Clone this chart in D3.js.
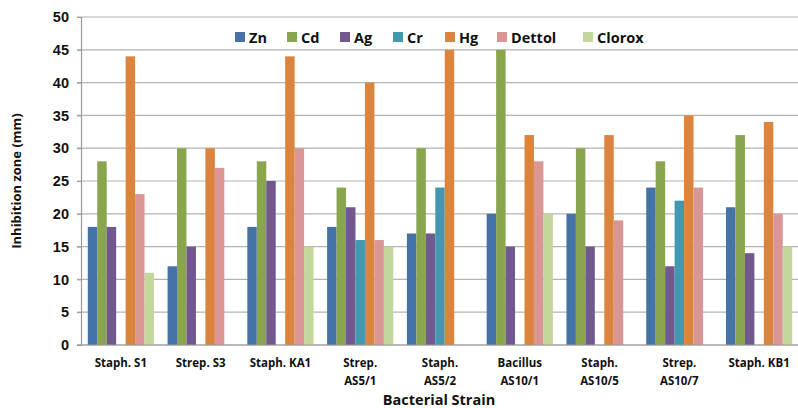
<!DOCTYPE html>
<html>
<head>
<meta charset="utf-8">
<script src="https://cdn.jsdelivr.net/npm/d3@7"></script>
<style>
  html, body { margin: 0; padding: 0; background: #fff; }
  svg { display: block; font-family: "Open Sans", "Liberation Sans", sans-serif; }
</style>
</head>
<body>
<svg id="chart" width="798" height="408"></svg>
<script>
// Bacterial strains tested
const strains = [
  ["Staph. S1"], ["Strep. S3"], ["Staph. KA1"], ["Strep.", "AS5/1"], ["Staph.", "AS5/2"],
  ["Bacillus", "AS10/1"], ["Staph.", "AS10/5"], ["Strep.", "AS10/7"], ["Staph. KB1"]
];
// Agents (series)
const agents = ["Zn", "Cd", "Ag", "Cr", "Hg", "Dettol", "Clorox"];
const agentColors = ["#4572A7", "#89A54E", "#71588F", "#4198AF", "#DB843D", "#D99694", "#C3D69B"];

// Inhibition zone (mm) per agent, one value per strain
const zn     = [18, 12, 18, 18, 17, 20, 20, 24, 21];
const cd     = [28, 30, 28, 24, 30, 45, 30, 28, 32];
const ag     = [18, 15, 25, 21, 17, 15, 15, 12, 14];
const cr     = [0, 0, 0, 16, 24, 0, 0, 22, 0];
const hg     = [44, 30, 44, 40, 45, 32, 32, 35, 34];
const dettol = [23, 27, 30, 16, 0, 28, 19, 24, 20];
const clorox = [11, 0, 15, 15, 0, 20, 0, 0, 15];
const seriesValues = [zn, cd, ag, cr, hg, dettol, clorox];

const yTicks = [0, 5, 10, 15, 20, 25, 30, 35, 40, 45, 50];

(function draw() {
  const svg = d3.select("#chart");
  const mLeft = 81, mRight = 799, mTop = 17, mBottom = 345;

  const x0 = d3.scaleBand()
    .domain(d3.range(strains.length))
    .range([mLeft, mRight])
    .paddingInner(0.17)
    .paddingOuter(0.085);
  const x1 = d3.scaleBand()
    .domain(agents)
    .range([0, x0.bandwidth()]);
  const y = d3.scaleLinear().domain([0, 50]).range([mBottom, mTop]);

  // Horizontal gridlines
  svg.append("g")
    .selectAll("line")
    .data(yTicks)
    .join("line")
    .attr("x1", mLeft - 4).attr("x2", mRight)
    .attr("y1", d => y(d)).attr("y2", d => y(d))
    .attr("stroke", "#b3b3b3").attr("stroke-width", 1.2);

  // Y axis
  const yAxis = svg.append("g")
    .attr("transform", `translate(${mLeft},0)`)
    .call(d3.axisLeft(y).tickValues(yTicks).tickSize(4).tickPadding(8));
  yAxis.select(".domain").attr("stroke", "#999").attr("stroke-width", 1.2);
  yAxis.selectAll(".tick line").attr("stroke", "#999");
  yAxis.selectAll(".tick text")
    .attr("font-size", 14.5).attr("font-weight", "bold").attr("fill", "#111");

  // Bars
  const groups = svg.append("g")
    .selectAll("g")
    .data(strains.map((s, i) => i))
    .join("g")
    .attr("transform", i => `translate(${x0(i)},0)`);

  groups.selectAll("rect")
    .data(i => agents.map((a, k) => ({ agent: a, k, value: seriesValues[k][i] })))
    .join("rect")
    .attr("x", d => x1(d.agent))
    .attr("width", x1.bandwidth())
    .attr("y", d => y(d.value))
    .attr("height", d => y(0) - y(d.value))
    .attr("fill", d => agentColors[d.k]);

  // Baseline
  svg.append("line")
    .attr("x1", mLeft - 4).attr("x2", mRight)
    .attr("y1", y(0)).attr("y2", y(0))
    .attr("stroke", "#999").attr("stroke-width", 1.2);

  // Category labels
  const xLabels = svg.append("g")
    .selectAll("text")
    .data(strains)
    .join("text")
    .attr("x", (d, i) => x0(i) + x0.bandwidth() / 2)
    .attr("y", 367)
    .attr("text-anchor", "middle")
    .attr("font-size", 11.5).attr("font-weight", "bold").attr("fill", "#111");
  xLabels.selectAll("tspan")
    .data(d => d)
    .join("tspan")
    .attr("x", function () { return d3.select(this.parentNode).attr("x"); })
    .attr("dy", (d, j) => j === 0 ? 0 : 18)
    .text(d => d);

  // Axis titles
  svg.append("text")
    .attr("x", (mLeft + mRight) / 2 - 1).attr("y", 405)
    .attr("text-anchor", "middle")
    .attr("font-size", 14.5).attr("font-weight", "bold").attr("fill", "#111")
    .text("Bacterial Strain");

  svg.append("text")
    .attr("transform", `translate(21,${(mTop + mBottom) / 2}) rotate(-90)`)
    .attr("text-anchor", "middle")
    .attr("font-size", 13).attr("font-weight", "bold").attr("fill", "#111")
    .text("Inhibition zone (mm)");

  // Legend
  const legendX = [235, 287, 340, 393, 445, 497, 583];
  const legend = svg.append("g")
    .selectAll("g")
    .data(agents)
    .join("g")
    .attr("transform", (d, k) => `translate(${legendX[k]},32)`);
  legend.append("rect")
    .attr("width", 10).attr("height", 10)
    .attr("fill", (d, k) => agentColors[k]);
  legend.append("text")
    .attr("x", 14).attr("y", 10.5)
    .attr("font-size", 14.5).attr("font-weight", "bold").attr("fill", "#111")
    .text(d => d);
})();
</script>
</body>
</html>
